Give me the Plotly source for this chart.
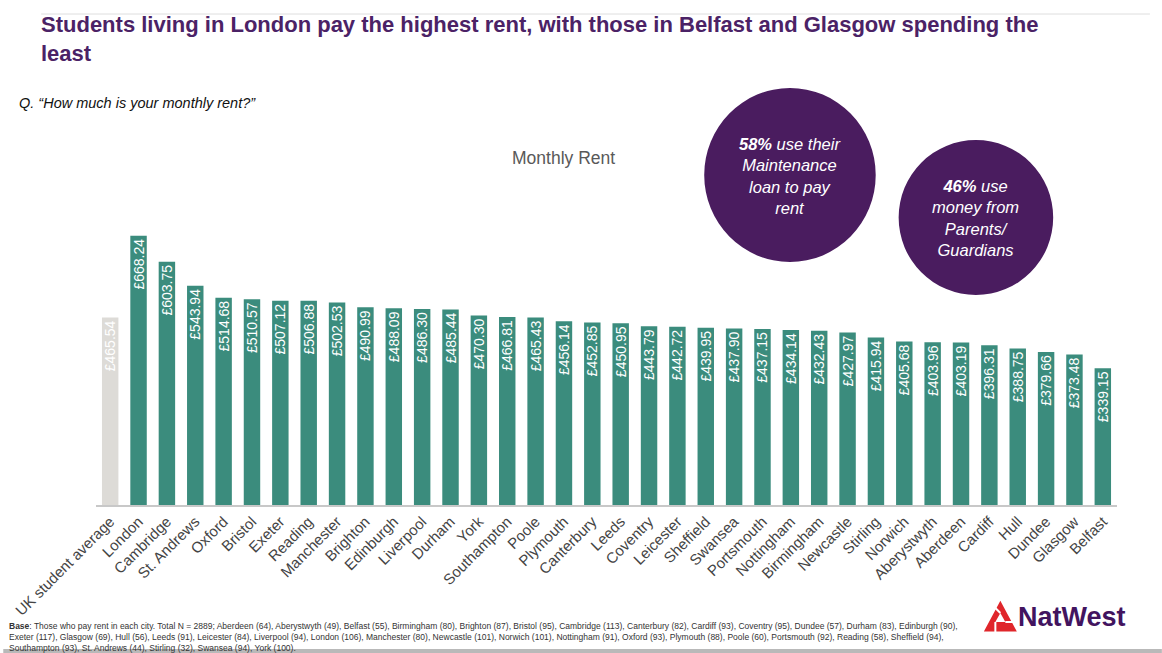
import plotly.graph_objects as go

# data
cities = [
    "UK student average", "London", "Cambridge", "St. Andrews", "Oxford", "Bristol",
    "Exeter", "Reading", "Manchester", "Brighton", "Edinburgh", "Liverpool", "Durham",
    "York", "Southampton", "Poole", "Plymouth", "Canterbury", "Leeds", "Coventry",
    "Leicester", "Sheffield", "Swansea", "Portsmouth", "Nottingham", "Birmingham",
    "Newcastle", "Stirling", "Norwich", "Aberystwyth", "Aberdeen", "Cardiff", "Hull",
    "Dundee", "Glasgow", "Belfast",
]
rent = [
    465.54, 668.24, 603.75, 543.94, 514.68, 510.57, 507.12, 506.88, 502.53, 490.99,
    488.09, 486.30, 485.44, 470.30, 466.81, 465.43, 456.14, 452.85, 450.95, 443.79,
    442.72, 439.95, 437.90, 437.15, 434.14, 432.43, 427.97, 415.94, 405.68, 403.96,
    403.19, 396.31, 388.75, 379.66, 373.48, 339.15,
]
rent_labels = ["£%.2f" % v for v in rent]

TEAL = "#3b8c7d"
AVG_GREY = "#dddbd7"
PURPLE = "#4b2266"
CIRCLE = "#4a1c5f"

W, H = 1162, 653
L, R, T, B = 93, 45, 223, 148
PW, PH = W - L - R, H - T - B


def px(x):
    return (x - L) / PW


def py(y):
    return (H - B - y) / PH


bar_colors = [AVG_GREY] + [TEAL] * (len(cities) - 1)

fig = go.Figure()
fig.add_trace(go.Bar(
    x=cities, y=rent,
    marker=dict(color=bar_colors, line=dict(width=0)),
    text=rent_labels, textposition="inside", insidetextanchor="end",
    textangle=-90, constraintext="none",
    textfont=dict(family="Liberation Sans, Arial", size=14, color="white"),
    hoverinfo="x+y",
))

shapes = [
    # thin rule above the headline
    dict(type="line", xref="paper", yref="paper", x0=px(38), x1=px(1150),
         y0=py(14), y1=py(14), line=dict(color="#dedede", width=1)),
    # grey band at the very bottom
    dict(type="rect", xref="paper", yref="paper", x0=px(0), x1=px(W),
         y0=py(653), y1=py(649), fillcolor="#b9b9b9", line=dict(width=0)),
    # callout circles
    dict(type="circle", xref="paper", yref="paper", x0=px(703), x1=px(875),
         y0=py(262), y1=py(88), fillcolor=CIRCLE, line=dict(width=0), layer="above"),
    dict(type="circle", xref="paper", yref="paper", x0=px(898), x1=px(1053),
         y0=py(295), y1=py(140), fillcolor=CIRCLE, line=dict(width=0), layer="above"),
]

# rough NatWest mark: red triangle split into three with a hole
cx = 1000
tri = [(cx, 604), (cx - 14, 630), (cx + 14, 630)]
path = "M %f %f L %f %f L %f %f Z" % tuple(v for p in tri for v in (px(p[0]), py(p[1])))
shapes.append(dict(type="path", xref="paper", yref="paper", path=path,
                   fillcolor="#e0262b", line=dict(color="#e0262b", width=3)))
hole = [(cx, 613), (cx - 5, 622), (cx + 5, 622)]
path = "M %f %f L %f %f L %f %f Z" % tuple(v for p in hole for v in (px(p[0]), py(p[1])))
shapes.append(dict(type="path", xref="paper", yref="paper", path=path,
                   fillcolor="white", line=dict(width=0)))
for (x0, y0), (x1, y1) in [((cx, 613), (cx - 9, 604)), ((cx - 5, 622), (cx - 5, 633)),
                           ((cx + 5, 622), (cx + 16, 622))]:
    shapes.append(dict(type="line", xref="paper", yref="paper", x0=px(x0), y0=py(y0),
                       x1=px(x1), y1=py(y1), line=dict(color="white", width=2)))

ann = []


def note(x, y, text, size, color, xanchor="left", family="Liberation Sans, Arial", **kw):
    ann.append(dict(xref="paper", yref="paper", x=px(x), y=py(y), text=text,
                    showarrow=False, xanchor=xanchor, yanchor="middle",
                    font=dict(family=family, size=size, color=color), **kw))


note(36, 39, "<b>Students living in London pay the highest rent, with those in Belfast and Glasgow spending the<br>least</b>",
     22, PURPLE, family="Liberation Sans Narrow, Liberation Sans, Arial", align="left")
note(14, 103, "<i>Q. “How much is your monthly rent?”</i>", 14.5, "#111",
     family="Liberation Sans Narrow, Liberation Sans, Arial")
note(562, 158, "Monthly Rent", 17.5, "#595959", xanchor="center")
note(789, 176, "<i><b>58%</b> use their<br>Maintenance<br>loan to pay<br>rent</i>", 16.5, "white",
     xanchor="center", align="center")
note(975, 218, "<i><b>46%</b> use<br>money from<br>Parents/<br>Guardians</i>", 16.5, "white",
     xanchor="center", align="center")
note(4, 637,
     "<b>Base</b>: Those who pay rent in each city. Total N = 2889; Aberdeen (64), Aberystwyth (49), Belfast (55), Birmingham (80), Brighton (87), Bristol (95), Cambridge (113), Canterbury (82), Cardiff (93), Coventry (95), Dundee (57), Durham (83), Edinburgh (90),<br>"
     "Exeter (117), Glasgow (69), Hull (56), Leeds (91), Leicester (84), Liverpool (94), London (106), Manchester (80), Newcastle (101), Norwich (101), Nottingham (91), Oxford (93), Plymouth (88), Poole (60), Portsmouth (92), Reading (58), Sheffield (94),<br>"
     "Southampton (93), St. Andrews (44), Stirling (32), Swansea (94), York (100).",
     8.5, "#333", family="Liberation Sans Narrow, Liberation Sans, Arial", align="left")
note(1016, 617, "<b>NatWest</b>", 27, "#42145f")

fig.update_layout(
    width=W, height=H,
    margin=dict(l=L, r=R, t=T, b=B),
    paper_bgcolor="white", plot_bgcolor="white",
    showlegend=False, bargap=0.42,
    shapes=shapes, annotations=ann,
    xaxis=dict(
        type="category", tickangle=-45, showgrid=False, ticks="",
        showline=True, linecolor="#c8c8c8", linewidth=2,
        tickfont=dict(family="Liberation Sans, Arial", size=15, color="#444"),
    ),
    yaxis=dict(range=[0, 700], visible=False, fixedrange=True),
)

# the page's default body margin would push the figure 8px off
fig.write_html("out.html", config={"displayModeBar": False},
               post_script="document.body.style.margin='0';")
